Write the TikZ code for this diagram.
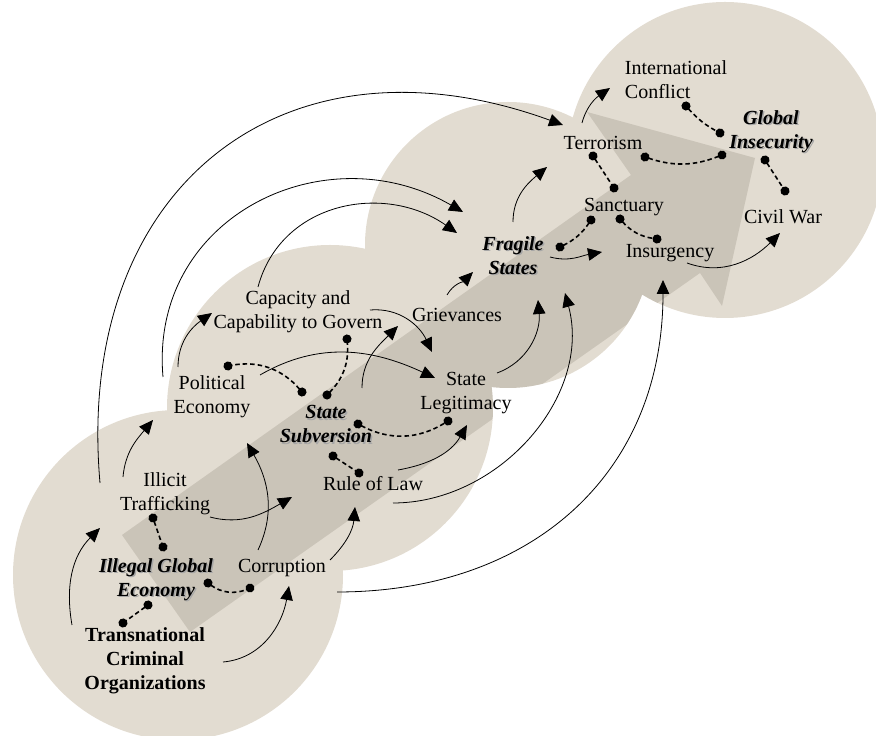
\documentclass[tikz,border=0pt]{standalone}
\usepackage{fontspec}
\setmainfont{Liberation Serif}
\usetikzlibrary{arrows.meta, calc}

\definecolor{sand}{RGB}{226,220,209}
\definecolor{shaft}{RGB}{110,100,85}
\newcommand{\shadowtxt}[1]{\makebox[0pt][l]{\hspace{1.5pt}\raisebox{-1.5pt}{\textcolor{black!35}{#1}}}#1}

\begin{document}
\begin{tikzpicture}[x=1pt, y=1pt,
    every node/.style={font=\fontsize{20}{24}\selectfont, align=center, inner sep=0pt},
    base/.style={font=\fontsize{20}{24}\selectfont\bfseries},
    key/.style={font=\fontsize{20}{24}\selectfont\bfseries\itshape},
    flow/.style={line width=0.8pt, -{Triangle[length=14pt, width=12.5pt]}},
    link/.style={line width=1.6pt, dash pattern=on 4.5pt off 3pt,
        {Circle[length=9pt]}-{Circle[length=9pt]}, shorten <=-4.5pt, shorten >=-4.5pt}]
    \useasboundingbox (0,0) rectangle (876,736);
    \begin{scope}
        \clip (0,0) rectangle (876,736);
        \fill[sand] (178,161) circle (165pt);
        \fill[sand] (330,328) circle (163pt);
        \fill[sand] (508,491) circle (143pt);
        \fill[sand] (725,576) circle (158pt);
    \end{scope}
    % the wide arrow, seen only on the discs
    \begin{scope}
        \clip (178,161) circle (165pt) (330,328) circle (163pt)
              (508,491) circle (143pt) (725,576) circle (158pt);
        \fill[shaft, opacity=0.2] (122,201) -- (631,561) -- (587,624) -- (755,578)
            -- (722,430) -- (700,463) -- (190,104) -- cycle;
    \end{scope}

    \node[base] (tco) at (145,75) {Transnational\\Criminal\\Organizations};
    \node[key] (ige) at (156,156) {\shadowtxt{Illegal Global}\\\shadowtxt{Economy}};
    \node (ill) at (165,242) {Illicit\\Trafficking};
    \node (cor) at (282,168) {Corruption};
    \node (pol) at (212,339) {Political\\Economy};
    \node (cap) at (298,424) {Capacity and\\Capability to Govern};
    \node[key] (sub) at (326,311) {\shadowtxt{State}\\\shadowtxt{Subversion}};
    \node (rol) at (373,252) {Rule of Law};
    \node (leg) at (466,343) {State\\Legitimacy};
    \node (grv) at (457,421) {Grievances};
    \node[key] (fra) at (513,480) {\shadowtxt{Fragile}\\\shadowtxt{States}};
    \node (ter) at (603,593) {Terrorism};
    \node (san) at (624,529) {Sanctuary};
    \node (ins) at (670,483) {Insurgency};
    \node[align=left] (itc) at (676,656) {International\\Conflict};
    \node[key] (gin) at (771,604) {\shadowtxt{Global}\\\shadowtxt{Insecurity}};
    \node (civ) at (783,519) {Civil War};

    % causal arrows
    \draw[flow] ($(tco)+(-73,36)$) to[out=100,in=225] ($(ill)+(-65,-34)$);
    \draw[flow] ($(tco)+(78,-1)$) to[out=5,in=260] ($(cor)+(7,-18)$);
    \draw[flow] ($(ill)+(-65,11)$) to[out=95,in=160,looseness=1.3] ($(ter)+(-40,18)$);
    \draw[flow] ($(ill)+(-42,17)$) to[out=85,in=230] ($(pol)+(-59,-23)$);
    \draw[flow] ($(pol)+(-49,20)$) to[out=95,in=150,looseness=1.2] ($(fra)+(-50,44)$);
    \draw[flow] ($(cap)+(-40,25)$) to[out=75,in=145,looseness=1.1] ($(fra)+(-56,23)$);
    \draw[flow] ($(pol)+(-34,30)$) to[out=90,in=215] ($(cap)+(-86,-1)$);
    \draw[flow] ($(ill)+(45,-23)$) to[out=-15,in=210] ($(sub)+(-34,-72)$);
    \draw[flow] ($(cor)+(-24,18)$) to[out=65,in=-60] ($(pol)+(35,-46)$);
    \draw[flow] ($(cor)+(48,8)$) to[out=45,in=-95] ($(rol)+(-18,-23)$);
    \draw[flow] ($(cor)+(55,-24)$) to[out=0,in=-90,looseness=1.1] ($(ins)+(-7,-27)$);
    \draw[flow] ($(rol)+(20,-19)$) to[out=0,in=-75] ($(fra)+(52,-37)$);
    \draw[flow] ($(rol)+(25,14)$) to[out=10,in=240] ($(leg)+(1,-32)$);
    \draw[flow] ($(leg)+(31,20)$) to[out=20,in=-85] ($(fra)+(25,-44)$);
    \draw[flow] ($(sub)+(36,37)$) to[out=90,in=225] ($(grv)+(-59,-11)$);
    \draw[flow] ($(cap)+(72,2)$) to[out=5,in=115] ($(leg)+(-34,41)$);
    \draw[flow] ($(pol)+(48,22)$) to[out=30,in=155] ($(leg)+(-31,15)$);
    \draw[flow] ($(grv)+(-10,20)$) to[out=60,in=225] ($(fra)+(-40,-16)$);
    \draw[flow] ($(fra)+(0,34)$) to[out=90,in=220] ($(ter)+(-56,-24)$);
    \draw[flow] ($(fra)+(37,-1)$) to[out=-15,in=190] ($(ins)+(-68,1)$);
    \draw[flow] ($(ter)+(-21,20)$) to[out=75,in=215] ($(itc)+(-66,-8)$);
    \draw[flow] ($(ins)+(17,-10)$) to[out=-20,in=225] ($(civ)+(-3,-16)$);

    % links to the core terms
    \draw[link] ($(ill)+(-12,-24)$) -- ($(ige)+(7,33)$);
    \draw[link] ($(ige)+(-8,-25)$) -- ($(tco)+(-22,38)$);
    \draw[link] ($(ige)+(52,-3)$) to[bend right=30] ($(cor)+(-32,-20)$);
    \draw[link] ($(sub)+(-24,33)$) to[bend right=30] ($(pol)+(16,31)$);
    \draw[link] ($(sub)+(1,30)$) to[bend right=25] ($(cap)+(49,-27)$);
    \draw[link] ($(sub)+(32,1)$) to[bend right=30] ($(leg)+(-18,-28)$);
    \draw[link] ($(sub)+(7,-31)$) -- ($(rol)+(-14,11)$);
    \draw[link] ($(fra)+(47,9)$) to[bend right=15] ($(san)+(-33,-13)$);
    \draw[link] ($(ter)+(-10,-13)$) -- ($(san)+(-10,19)$);
    \draw[link] ($(san)+(-4,-12)$) to[bend right=20] ($(ins)+(-13,14)$);
    \draw[link] ($(ter)+(42,-14)$) to[bend right=20] ($(gin)+(-49,-23)$);
    \draw[link] ($(itc)+(10,-26)$) to[bend right=10] ($(gin)+(-51,-1)$);
    \draw[link] ($(gin)+(-6,-28)$) -- ($(civ)+(2,26)$);
\end{tikzpicture}
\end{document}
